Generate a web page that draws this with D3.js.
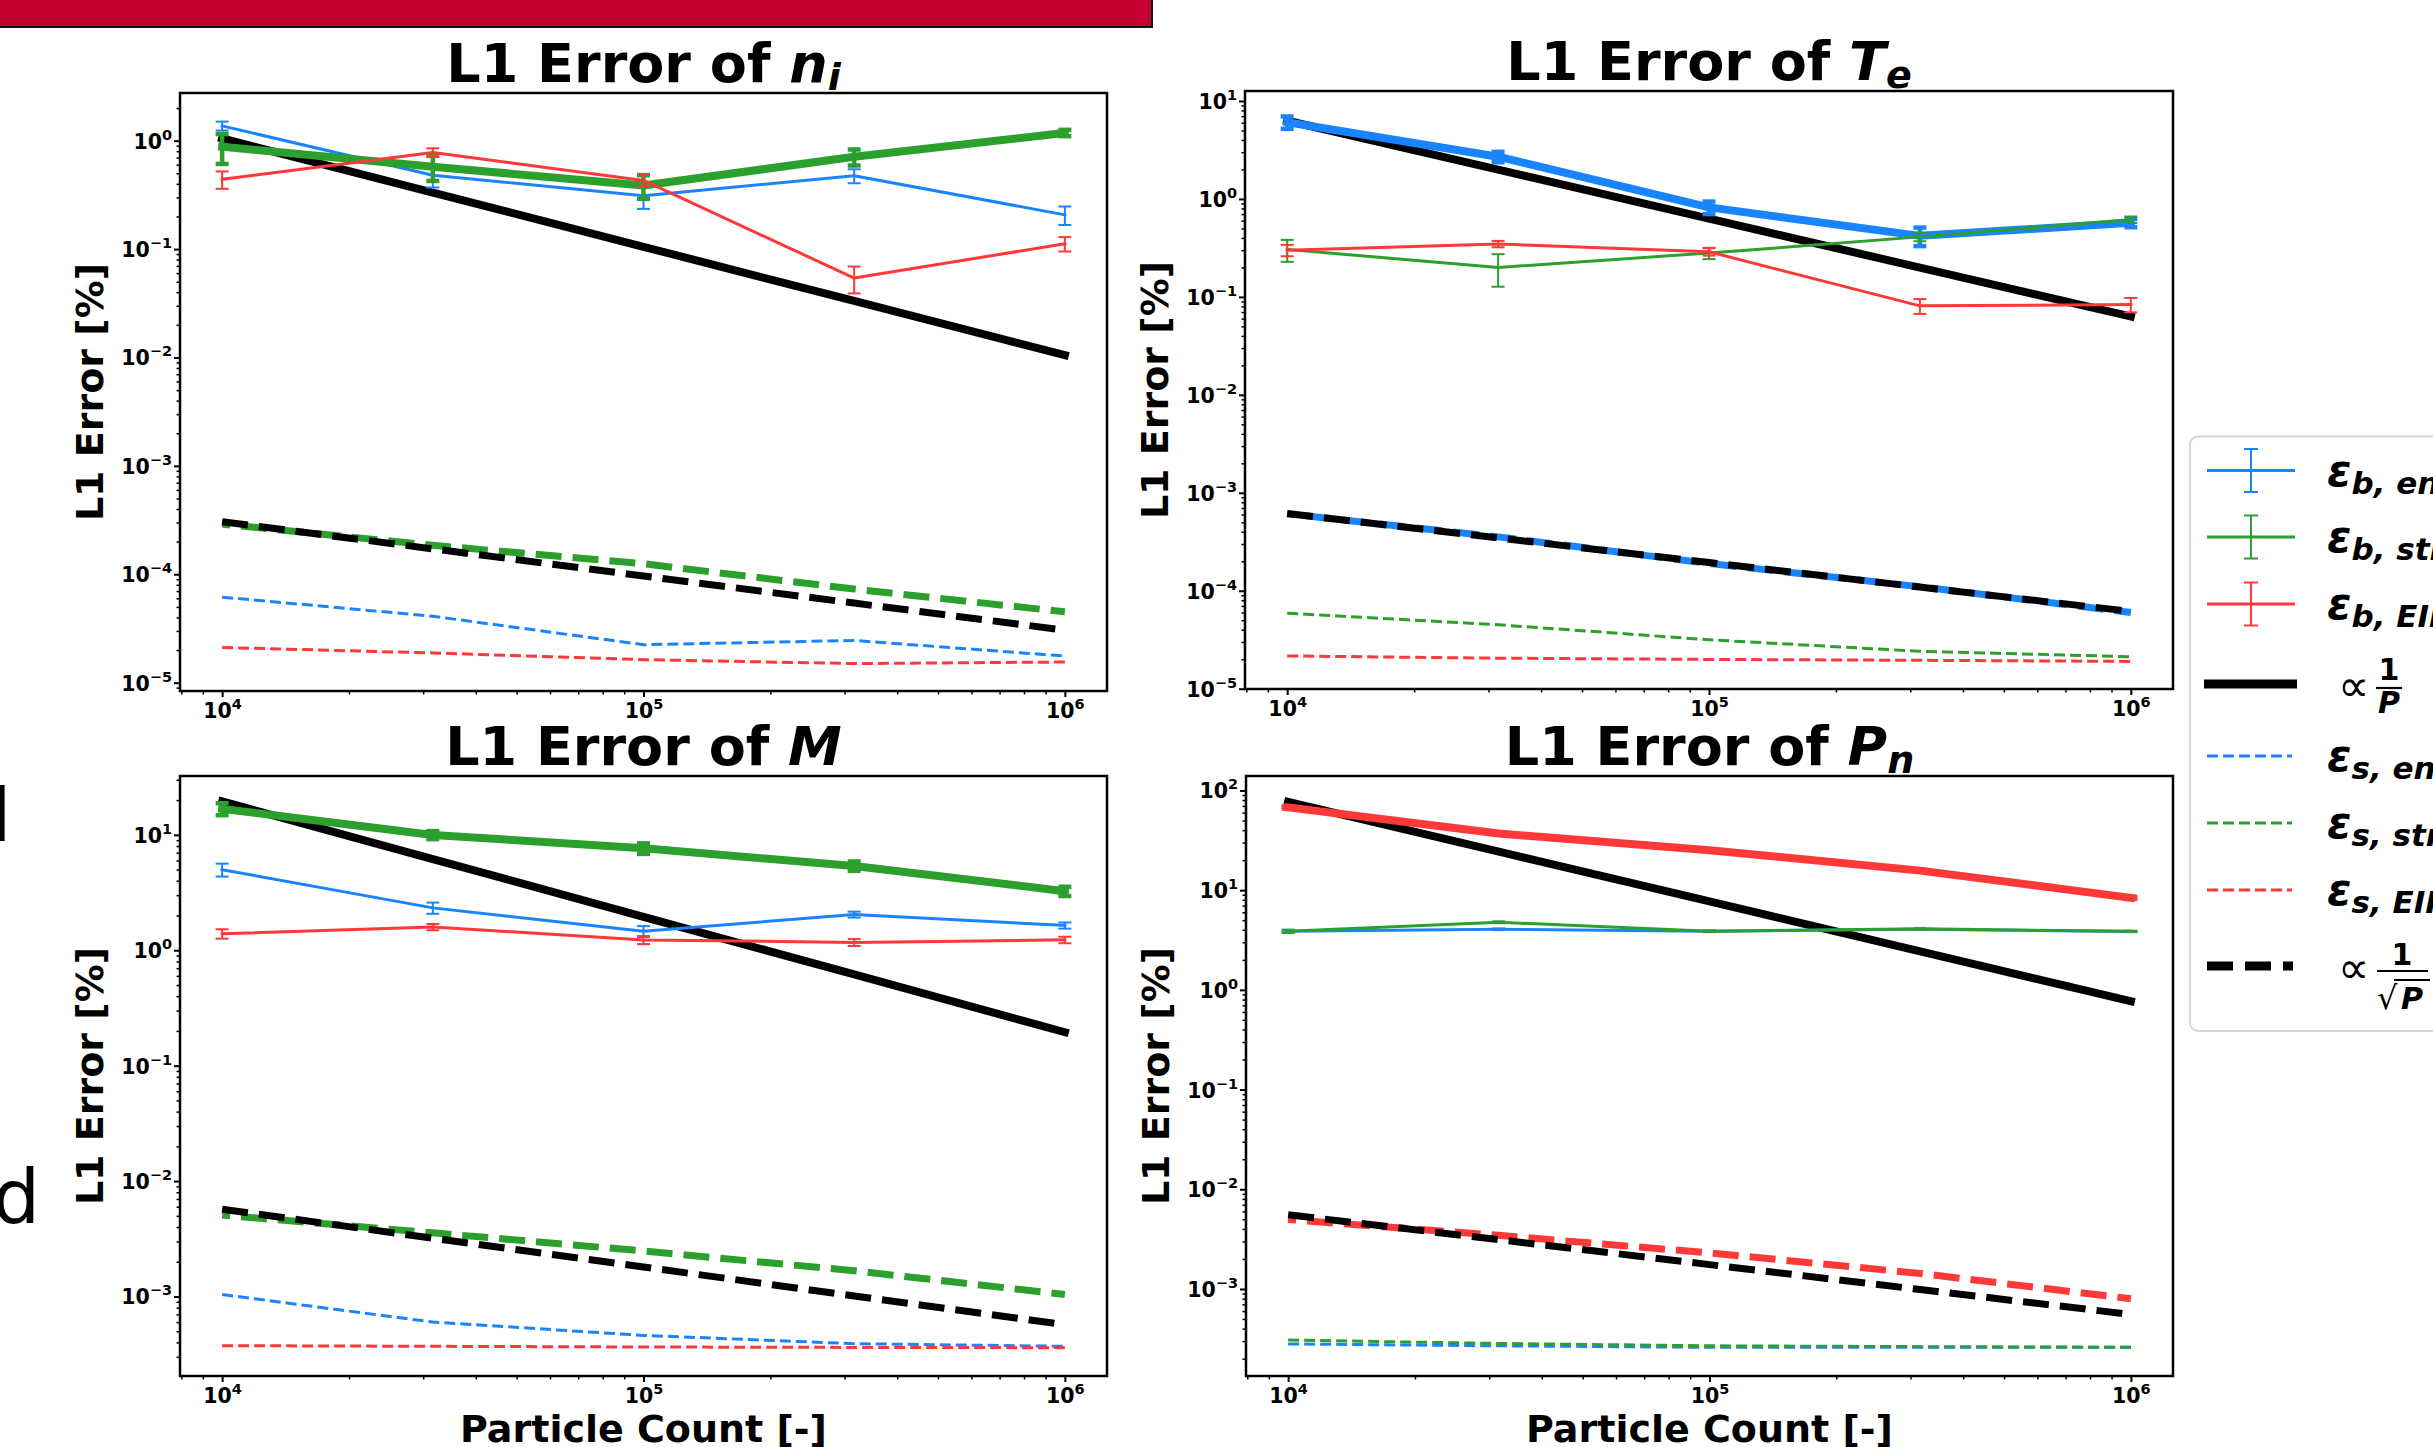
<!DOCTYPE html>
<html><head><meta charset="utf-8">
<script src="https://cdn.jsdelivr.net/npm/d3@7"></script>
<style>
body{margin:0;background:#fff;overflow:hidden}
svg{display:block}
text{font-family:"DejaVu Sans",sans-serif;white-space:pre}
</style>
</head><body>
<svg id="chart" width="2433" height="1447"></svg>
<script>
// ---------------- DATA ----------------
const particleCounts = [1e4, 31623, 1e5, 316228, 1e6];
const xTickExp = [4, 5, 6];

// n_i
const niEbEnergy = [1.37, 0.48, 0.31, 0.475, 0.207];
const niEbEnergyErr = [0.13, 0.11, 0.075, 0.07, 0.04];
const niEbStr = [0.88, 0.575, 0.386, 0.71, 1.18];
const niEbStrErr = [0.27, 0.15, 0.095, 0.12, 0.08];
const niEbEirene = [0.44, 0.78, 0.43, 0.054, 0.112];
const niEbEireneErr = [0.08, 0.07, 0.055, 0.015, 0.017];
const niEsEnergy = [6.15e-5, 4.1e-5, 2.24e-5, 2.45e-5, 1.76e-5];
const niEsStr = [2.9e-4, 1.85e-4, 1.25e-4, 7.3e-5, 4.5e-5];
const niEsEirene = [2.11e-5, 1.88e-5, 1.63e-5, 1.5e-5, 1.55e-5];
const niRefP = [1.05, 0.332, 0.105, 0.0332, 0.0105];
const niRefSqrtP = [3.05e-4, 1.715e-4, 9.64e-5, 5.42e-5, 3.05e-5];
const niYTickExp = [0, -1, -2, -3, -4, -5];

// T_e
const teEbEnergy = [6.07, 2.7, 0.82, 0.42, 0.57];
const teEbEnergyErr = [0.88, 0.33, 0.12, 0.09, 0.055];
const teEbStr = [0.305, 0.2, 0.28, 0.41, 0.615];
const teEbStrErr = [0.077, 0.073, 0.037, 0.04, 0.047];
const teEbEirene = [0.30, 0.347, 0.289, 0.081, 0.0835];
const teEbEireneErr = [0.04, 0.026, 0.025, 0.014, 0.014];
const teEsEnergy = [6.1e-4, 3.55e-4, 1.9e-4, 1.1e-4, 6.0e-5];
const teEsStr = [5.9e-5, 4.5e-5, 3.16e-5, 2.41e-5, 2.12e-5];
const teEsEirene = [2.16e-5, 2.05e-5, 1.99e-5, 1.95e-5, 1.9e-5];
const teRefP = [6.3, 1.99, 0.63, 0.199, 0.063];
const teRefSqrtP = [6.15e-4, 3.46e-4, 1.94e-4, 1.09e-4, 6.15e-5];
const teYTickExp = [1, 0, -1, -2, -3, -4, -5];

// M
const mEbEnergy = [4.99, 2.33, 1.46, 2.04, 1.64];
const mEbEnergyErr = [0.64, 0.26, 0.16, 0.12, 0.1];
const mEbStr = [16.8, 9.98, 7.64, 5.38, 3.25];
const mEbStrErr = [2.0, 0.8, 0.8, 0.5, 0.3];
const mEbEirene = [1.39, 1.59, 1.23, 1.17, 1.23];
const mEbEireneErr = [0.13, 0.1, 0.1, 0.08, 0.08];
const mEsEnergy = [1.04e-3, 6.0e-4, 4.6e-4, 3.9e-4, 3.7e-4];
const mEsStr = [5.07e-3, 3.56e-3, 2.48e-3, 1.67e-3, 1.04e-3];
const mEsEirene = [3.75e-4, 3.7e-4, 3.65e-4, 3.62e-4, 3.6e-4];
const mRefP = [19.5, 6.17, 1.95, 0.617, 0.195];
const mRefSqrtP = [5.7e-3, 3.2e-3, 1.8e-3, 1.01e-3, 5.7e-4];
const mYTickExp = [1, 0, -1, -2, -3];

// P_n
const pnEbEnergy = [3.87, 4.05, 3.87, 4.05, 3.84];
const pnEbEnergyErr = [0.08, 0.08, 0.06, 0.06, 0.05];
const pnEbStr = [3.87, 4.77, 3.87, 4.09, 3.87];
const pnEbStrErr = [0.15, 0.1, 0.08, 0.06, 0.05];
const pnEbEirene = [67.7, 37, 25.2, 15.7, 8.37];
const pnEbEireneErr = [1.5, 0.8, 0.5, 0.3, 0.2];
const pnEsEnergy = [2.81e-4, 2.69e-4, 2.6e-4, 2.6e-4, 2.6e-4];
const pnEsStr = [3.07e-4, 2.84e-4, 2.69e-4, 2.64e-4, 2.6e-4];
const pnEsEirene = [4.97e-3, 3.45e-3, 2.3e-3, 1.43e-3, 7.98e-4];
const pnRefP = [77, 24.3, 7.7, 2.43, 0.77];
const pnRefSqrtP = [5.55e-3, 3.12e-3, 1.755e-3, 9.87e-4, 5.55e-4];
const pnYTickExp = [2, 1, 0, -1, -2, -3];

const legendSubs = ["b, energy", "b, strat", "b, EIRENE", "s, energy", "s, strat", "s, EIRENE"];

// ---------------- STYLE / LAYOUT ----------------
const BLUE = "#1a84ff", GREEN = "#2ca02c", RED = "#ff3838";
const THIN = 3, THICK = 8, THICKDASH = 7;
const DASH_THIN = "11 5", DASH_THICK = "26 11";

const panels = [
  {sym:"n", sub:"i", x0:180, x1:1107, y0:93, y1:691, lo:-5.077, hi:0.44, yExp:niYTickExp, xlabel:false,
   eb:[[niEbEnergy,niEbEnergyErr,BLUE,false],[niEbStr,niEbStrErr,GREEN,true],[niEbEirene,niEbEireneErr,RED,false]],
   es:[[niEsEnergy,BLUE,false],[niEsStr,GREEN,true],[niEsEirene,RED,false]], ref:niRefP, refS:niRefSqrtP},
  {sym:"T", sub:"e", x0:1245, x1:2173, y0:91, y1:689, lo:-5.003, hi:1.102, yExp:teYTickExp, xlabel:false,
   eb:[[teEbEnergy,teEbEnergyErr,BLUE,true],[teEbStr,teEbStrErr,GREEN,false],[teEbEirene,teEbEireneErr,RED,false]],
   es:[[teEsEnergy,BLUE,true],[teEsStr,GREEN,false],[teEsEirene,RED,false]], ref:teRefP, refS:teRefSqrtP},
  {sym:"M", sub:null, x0:180, x1:1107, y0:776, y1:1376, lo:-3.689, hi:1.51, yExp:mYTickExp, xlabel:true,
   eb:[[mEbEnergy,mEbEnergyErr,BLUE,false],[mEbStr,mEbStrErr,GREEN,true],[mEbEirene,mEbEireneErr,RED,false]],
   es:[[mEsEnergy,BLUE,false],[mEsStr,GREEN,true],[mEsEirene,RED,false]], ref:mRefP, refS:mRefSqrtP},
  {sym:"P", sub:"n", x0:1246, x1:2173, y0:776, y1:1376, lo:-3.873, hi:2.145, yExp:pnYTickExp, xlabel:true,
   eb:[[pnEbEnergy,pnEbEnergyErr,BLUE,false],[pnEbStr,pnEbStrErr,GREEN,false],[pnEbEirene,pnEbEireneErr,RED,true]],
   es:[[pnEsEnergy,BLUE,false],[pnEsStr,GREEN,false],[pnEsEirene,RED,true]], ref:pnRefP, refS:pnRefSqrtP}
];

const svg = d3.select("#chart");

// top red banner and page fragments
svg.append("rect").attr("x",-3).attr("y",-3).attr("width",1155).attr("height",30)
  .attr("fill","#c4002f").attr("stroke","#111").attr("stroke-width",2);
svg.append("text").attr("x",10).attr("y",832).attr("text-anchor","end")
  .attr("font-family","Open Sans").attr("font-size",62).text("]");
svg.append("text").attr("x",40).attr("y",1223).attr("text-anchor","end")
  .attr("font-family","Open Sans").attr("font-size",75).text("d");

function minorTicks(lo, hi) {
  const out = [];
  for (let k = Math.floor(lo); k <= Math.ceil(hi); k++)
    for (let m = 2; m <= 9; m++) { const v = m * Math.pow(10, k); const l = Math.log10(v); if (l >= lo && l <= hi) out.push(v); }
  return out;
}
function styleAxis(sel, w) {
  sel.select(".domain").remove();
  sel.selectAll(".tick line").attr("stroke","#000").attr("stroke-width",w);
}
function powLabel(textSel, exp, supDy) {
  textSel.text(null);
  textSel.append("tspan").text("10");
  textSel.append("tspan").attr("font-size",14.5).attr("dy",supDy).text(String(exp).replace("-","\u2212"));
}

panels.forEach(P => {
  const x = d3.scaleLog().domain([Math.pow(10,3.9), Math.pow(10,6.1)]).range([P.x0, P.x1]);
  const y = d3.scaleLog().domain([Math.pow(10,P.lo), Math.pow(10,P.hi)]).range([P.y1, P.y0]);
  const g = svg.append("g");

  // axes: minor ticks
  g.append("g").attr("transform",`translate(${P.x0},0)`)
    .call(d3.axisLeft(y).tickValues(minorTicks(P.lo,P.hi)).tickSize(3.5).tickFormat(()=>""))
    .call(styleAxis,1.5);
  g.append("g").attr("transform",`translate(0,${P.y1})`)
    .call(d3.axisBottom(x).tickValues(minorTicks(3.9,6.1)).tickSize(3.5).tickFormat(()=>""))
    .call(styleAxis,1.5);
  // major ticks
  const ya = g.append("g").attr("transform",`translate(${P.x0},0)`)
    .call(d3.axisLeft(y).tickValues(P.yExp.map(k=>Math.pow(10,k))).tickSize(6).tickFormat(()=>""))
    .call(styleAxis,2);
  ya.selectAll(".tick text").each(function(d){
    const t = d3.select(this).attr("x",-8).attr("dy",null).attr("y",7.5)
      .attr("font-size",20.5).attr("font-weight","bold").attr("fill","#000")
      .attr("font-family","DejaVu Sans");
    powLabel(t, Math.round(Math.log10(d)), -9);
  });
  const xa = g.append("g").attr("transform",`translate(0,${P.y1})`)
    .call(d3.axisBottom(x).tickValues(xTickExp.map(k=>Math.pow(10,k))).tickSize(6).tickFormat(()=>""))
    .call(styleAxis,2);
  xa.selectAll(".tick text").each(function(d){
    const t = d3.select(this).attr("dy",null).attr("y",27)
      .attr("font-size",20.5).attr("font-weight","bold").attr("fill","#000")
      .attr("font-family","DejaVu Sans").attr("text-anchor","middle");
    powLabel(t, Math.round(Math.log10(d)), -9);
  });

  const line = d3.line().x(d=>x(d[0])).y(d=>y(d[1]));
  const pts = arr => particleCounts.map((p,i)=>[p,arr[i]]);
  const plot = g.append("g");

  // 1/P reference
  plot.append("path").attr("d",line(pts(P.ref))).attr("fill","none").attr("stroke","#000")
    .attr("stroke-width",THICK).attr("stroke-linecap","square");

  // bootstrap-type errorbar series
  P.eb.forEach(([vals,errs,col,thick]) => {
    const lw = thick ? THICK : THIN, elw = thick ? 4.5 : 2;
    plot.append("path").attr("d",line(pts(vals))).attr("fill","none").attr("stroke",col)
      .attr("stroke-width",lw).attr("stroke-linejoin","round").attr("stroke-linecap","square");
    const eg = plot.append("g").attr("stroke",col).attr("stroke-width",elw);
    particleCounts.forEach((p,i) => {
      const cx = x(p), yT = y(vals[i]+errs[i]), yB = y(Math.max(vals[i]-errs[i], 1e-12));
      eg.append("line").attr("x1",cx).attr("x2",cx).attr("y1",yT).attr("y2",yB);
      eg.append("line").attr("x1",cx-6.5).attr("x2",cx+6.5).attr("y1",yT).attr("y2",yT);
      eg.append("line").attr("x1",cx-6.5).attr("x2",cx+6.5).attr("y1",yB).attr("y2",yB);
    });
  });

  // statistical (dashed) series
  P.es.forEach(([vals,col,thick]) => {
    plot.append("path").attr("d",line(pts(vals))).attr("fill","none").attr("stroke",col)
      .attr("stroke-width",thick?THICKDASH:THIN).attr("stroke-dasharray",thick?DASH_THICK:DASH_THIN)
      .attr("stroke-dashoffset",thick?18:0)
      .attr("stroke-linejoin","round");
  });

  // 1/sqrt(P) reference
  plot.append("path").attr("d",line(pts(P.refS))).attr("fill","none").attr("stroke","#000")
    .attr("stroke-width",THICKDASH).attr("stroke-dasharray",DASH_THICK);

  // frame
  g.append("rect").attr("x",P.x0).attr("y",P.y0).attr("width",P.x1-P.x0).attr("height",P.y1-P.y0)
    .attr("fill","none").attr("stroke","#000").attr("stroke-width",2.5);

  // title
  const cx = (P.x0+P.x1)/2;
  const t = g.append("text").attr("x",cx).attr("y",P.y0-11).attr("text-anchor","middle")
    .attr("font-size",54).attr("font-weight","bold");
  t.append("tspan").text("L1 Error of ");
  t.append("tspan").attr("font-style","italic").text(P.sym);
  if (P.sub) t.append("tspan").attr("font-style","italic").attr("font-size",38).attr("dy",8).text(P.sub);

  // y label
  const ly = (P.y0+P.y1)/2, lx = P.x0-77;
  g.append("text").attr("transform",`translate(${lx},${ly}) rotate(-90)`).attr("text-anchor","middle")
    .attr("font-size",38).attr("font-weight","bold").text("L1 Error [%]");
  if (P.xlabel) g.append("text").attr("x",cx).attr("y",P.y1+66).attr("text-anchor","middle")
    .attr("font-size",38).attr("font-weight","bold").text("Particle Count [-]");
});

// ---------------- LEGEND ----------------
const L = svg.append("g");
L.append("rect").attr("x",2190).attr("y",436.5).attr("width",320).attr("height",594.5).attr("rx",8)
  .attr("fill","#fff").attr("stroke","#d6d6d6").attr("stroke-width",2);
const legCols = [BLUE, GREEN, RED];
const ebRows = [470.5, 537, 604], esRows = [756, 823, 890];
function epsLabel(yc, sub) {
  const t = L.append("text").attr("x",2327).attr("y",yc+15).attr("font-size",44)
    .attr("font-weight","bold").attr("font-style","italic");
  t.append("tspan").text("\u03b5");
  t.append("tspan").attr("font-size",31).attr("dy",8).text(sub);
}
ebRows.forEach((yc,i) => {
  const gg = L.append("g").attr("stroke",legCols[i]);
  gg.append("line").attr("x1",2207).attr("x2",2295).attr("y1",yc).attr("y2",yc).attr("stroke-width",THIN);
  gg.append("line").attr("x1",2251).attr("x2",2251).attr("y1",yc-21.5).attr("y2",yc+21.5).attr("stroke-width",2);
  gg.append("line").attr("x1",2244).attr("x2",2258).attr("y1",yc-21.5).attr("y2",yc-21.5).attr("stroke-width",2);
  gg.append("line").attr("x1",2244).attr("x2",2258).attr("y1",yc+21.5).attr("y2",yc+21.5).attr("stroke-width",2);
  epsLabel(yc, legendSubs[i]);
});
esRows.forEach((yc,i) => {
  L.append("line").attr("x1",2207).attr("x2",2292).attr("y1",yc).attr("y2",yc)
    .attr("stroke",legCols[i]).attr("stroke-width",THIN).attr("stroke-dasharray",DASH_THIN);
  epsLabel(yc, legendSubs[3+i]);
});
// 1/P
L.append("line").attr("x1",2204).attr("x2",2297).attr("y1",684).attr("y2",684).attr("stroke","#000").attr("stroke-width",9);
L.append("text").attr("x",2338).attr("y",701).attr("font-size",44).text("\u221d");
L.append("text").attr("x",2389).attr("y",680).attr("text-anchor","middle").attr("font-size",30).attr("font-weight","bold").text("1");
L.append("line").attr("x1",2376).attr("x2",2402).attr("y1",688).attr("y2",688).attr("stroke","#000").attr("stroke-width",2.2);
L.append("text").attr("x",2389).attr("y",713).attr("text-anchor","middle").attr("font-size",30).attr("font-weight","bold").attr("font-style","italic").text("P");
// 1/sqrt(P)
L.append("line").attr("x1",2207).attr("x2",2293).attr("y1",966).attr("y2",966).attr("stroke","#000")
  .attr("stroke-width",9).attr("stroke-dasharray","26 12");
L.append("text").attr("x",2338).attr("y",983).attr("font-size",44).text("\u221d");
L.append("text").attr("x",2402).attr("y",965).attr("text-anchor","middle").attr("font-size",30).attr("font-weight","bold").text("1");
L.append("line").attr("x1",2377).attr("x2",2428).attr("y1",971).attr("y2",971).attr("stroke","#000").attr("stroke-width",2.2);
L.append("text").attr("x",2377).attr("y",1009).attr("font-size",32).text("\u221a");
L.append("line").attr("x1",2394).attr("x2",2430).attr("y1",980).attr("y2",980).attr("stroke","#000").attr("stroke-width",2);
L.append("text").attr("x",2412).attr("y",1009).attr("text-anchor","middle").attr("font-size",30).attr("font-weight","bold").attr("font-style","italic").text("P");
</script>
</body></html>
